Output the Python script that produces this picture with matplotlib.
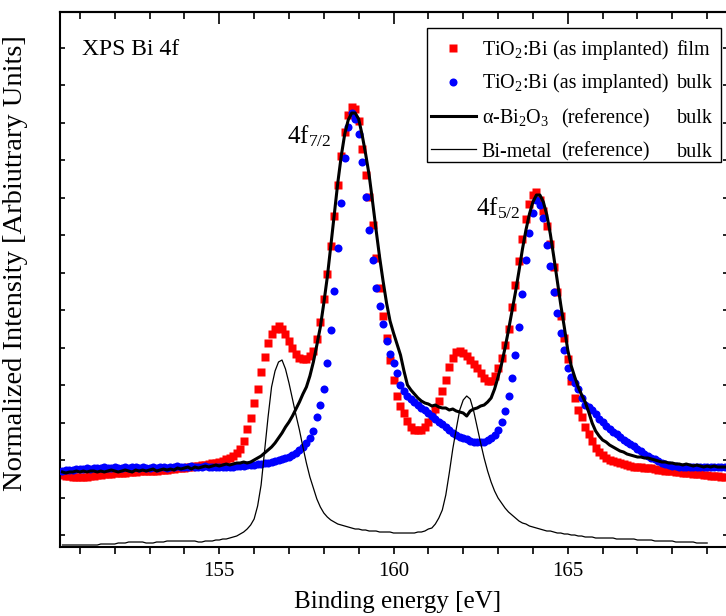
import numpy as np
import matplotlib
matplotlib.use("Agg")
import matplotlib.pyplot as plt
from matplotlib.patches import Rectangle
from matplotlib.lines import Line2D
from matplotlib.ticker import FixedLocator, MultipleLocator, NullFormatter

plt.rcParams['font.family'] = ['Liberation Serif', 'DejaVu Serif']
plt.rcParams['mathtext.fontset'] = 'custom'
plt.rcParams['mathtext.rm'] = 'Liberation Serif'
plt.rcParams['mathtext.it'] = 'Liberation Serif:italic'
plt.rcParams['mathtext.bf'] = 'Liberation Serif:bold'

# ---- data (binding energy rows start at given eV, step 0.1 eV; intensity in arb. units) ----
film_rows = [
    (150.5, [72, 71, 71, 70, 70]),
    (151.0, [70, 70, 70, 71, 71, 72, 72, 73, 73, 73]),
    (152.0, [74, 74, 74, 74, 75, 75, 75, 76, 76, 76]),
    (153.0, [76, 76, 76, 77, 77, 77, 78, 78, 79, 79]),
    (154.0, [79, 80, 80, 81, 81, 82, 82, 83, 84, 84]),
    (155.0, [85, 86, 88, 89, 91, 94, 98, 106, 118, 129]),
    (156.0, [144, 158, 175, 190, 204, 213, 218, 221, 218, 213]),
    (157.0, [206, 199, 193, 189, 188, 188, 191, 196, 208, 225]),
    (158.0, [248, 273, 301, 331, 362, 391, 415, 432, 440, 438]),
    (159.0, [426, 398, 372, 350, 322, 289, 259, 231, 209, 187]),
    (160.0, [167, 151, 141, 134, 126, 120, 117, 117, 117, 120]),
    (161.0, [125, 131, 138, 146, 156, 167, 180, 189, 195, 196]),
    (162.0, [194, 191, 187, 183, 179, 174, 169, 166, 166, 171]),
    (163.0, [179, 189, 202, 218, 240, 262, 286, 308, 328, 343]),
    (164.0, [352, 355, 347, 336, 321, 303, 280, 255, 231, 209]),
    (165.0, [188, 166, 149, 137, 130, 120, 113, 106, 99, 95]),
    (166.0, [92, 89, 87, 86, 85, 84, 83, 82, 81, 80]),
    (167.0, [80, 80, 79, 79, 79, 78, 77, 77, 76, 76]),
    (168.0, [76, 75, 75, 74, 74, 74, 73, 73, 73, 72]),
    (169.0, [72, 71, 71, 71, 70, 70]),
]

bulk_rows = [
    (150.5, [76, 77, 77, 77, 78]),
    (151.0, [78, 78, 79, 78, 79, 79, 79, 80, 79, 79]),
    (152.0, [80, 79, 79, 80, 79, 80, 80, 79, 80, 79]),
    (153.0, [79, 80, 79, 80, 80, 79, 80, 80, 81, 80]),
    (154.0, [80, 80, 81, 80, 80, 80, 81, 80, 80, 80]),
    (155.0, [80, 80, 80, 80, 80, 81, 81, 81, 82, 82]),
    (156.0, [82, 83, 83, 84, 84, 85, 86, 87, 88, 89]),
    (157.0, [90, 92, 94, 97, 100, 104, 109, 116, 130, 142]),
    (158.0, [158, 184, 217, 256, 299, 344, 389, 420, 434, 428]),
    (159.0, [413, 385, 350, 317, 287, 259, 241, 223, 206, 193]),
    (160.0, [184, 174, 162, 156, 151, 148, 145, 142, 139, 137]),
    (161.0, [134, 131, 128, 125, 123, 120, 117, 114, 112, 110]),
    (162.0, [109, 108, 106, 105, 105, 105, 105, 107, 109, 112]),
    (163.0, [117, 125, 136, 151, 169, 192, 220, 253, 287, 314]),
    (164.0, [334, 347, 342, 329, 302, 281, 255, 234, 214, 197]),
    (165.0, [179, 170, 164, 158, 149, 142, 140, 137, 133, 128]),
    (166.0, [125, 121, 118, 115, 113, 110, 107, 105, 103, 101]),
    (167.0, [98, 96, 93, 91, 89, 88, 86, 84, 83, 82]),
    (168.0, [81, 81, 80, 80, 80, 80, 80, 80, 80, 80]),
    (169.0, [80, 80, 80, 80, 80, 80]),
]

oxide_rows = [
    (150.5, [75, 74, 75, 75, 76]),
    (151.0, [75, 76, 75, 76, 76, 75, 76, 75, 76, 77]),
    (152.0, [76, 75, 76, 77, 76, 75, 77, 76, 77, 76]),
    (153.0, [77, 78, 76, 77, 78, 77, 78, 77, 79, 78]),
    (154.0, [79, 80, 78, 80, 79, 80, 81, 80, 81, 82]),
    (155.0, [81, 82, 83, 82, 83, 84, 84, 85, 84, 85]),
    (156.0, [87, 89, 91, 94, 97, 100, 104, 109, 114, 120]),
    (157.0, [125, 131, 138, 145, 153, 160, 171, 185, 202, 220]),
    (158.0, [244, 270, 301, 333, 364, 391, 413, 427, 434, 434]),
    (159.0, [428, 412, 393, 372, 345, 317, 290, 266, 244, 226]),
    (160.0, [214, 203, 192, 176, 162, 157, 153, 149, 146, 144]),
    (161.0, [143, 141, 142, 140, 139, 139, 137, 138, 136, 135]),
    (162.0, [134, 131, 136, 138, 139, 141, 142, 145, 149, 158]),
    (163.0, [170, 183, 199, 217, 236, 255, 276, 298, 317, 333]),
    (164.0, [345, 352, 352, 345, 332, 313, 290, 266, 242, 220]),
    (165.0, [197, 181, 170, 160, 152, 145, 135, 124, 116, 111]),
    (166.0, [107, 105, 102, 100, 98, 96, 95, 93, 92, 91]),
    (167.0, [90, 90, 89, 89, 88, 87, 86, 85, 85, 84]),
    (168.0, [84, 83, 83, 82, 83, 82, 81, 82, 81, 80]),
    (169.0, [81, 80, 81, 80, 80, 80]),
]

metal_rows = [
    (150.5, [2, 2, 2, 2, 2]),
    (151.0, [2, 2, 2, 2, 2, 2, 3, 3, 3, 3]),
    (152.0, [3, 4, 4, 4, 5, 5, 5, 5, 5, 4]),
    (153.0, [4, 4, 5, 5, 5, 6, 6, 6, 6, 6]),
    (154.0, [6, 6, 6, 6, 5, 5, 6, 6, 6, 7]),
    (155.0, [7, 8, 8, 9, 10, 11, 13, 15, 18, 22]),
    (156.0, [28, 41, 62, 96, 130, 160, 176, 185, 187, 178]),
    (157.0, [164, 148, 132, 117, 100, 84, 70, 59, 48, 40]),
    (158.0, [34, 30, 27, 25, 23, 22, 21, 20, 19, 18]),
    (159.0, [18, 17, 17, 16, 16, 16, 15, 15, 15, 15]),
    (160.0, [14, 14, 14, 14, 14, 14, 14, 15, 15, 16]),
    (161.0, [18, 19, 23, 29, 37, 52, 74, 98, 118, 137]),
    (162.0, [147, 151, 148, 136, 120, 104, 89, 76, 65, 56]),
    (163.0, [49, 44, 39, 35, 32, 29, 26, 24, 23, 21]),
    (164.0, [20, 19, 18, 17, 16, 16, 15, 14, 14, 13]),
    (165.0, [13, 12, 12, 11, 11, 10, 10, 10, 9, 9]),
    (166.0, [9, 9, 9, 9, 8, 8, 8, 8, 8, 8]),
    (167.0, [7, 7, 7, 7, 7, 6, 6, 6, 6, 6]),
    (168.0, [6, 5, 5, 5, 5, 5, 5, 4, 4, 4]),
    (169.0, [4]),
]

x_major_ticks = [155, 160, 165]
x_tick_labels = ["155", "160", "165"]


def rows_to_xy(rows):
    e, v = [], []
    for start, vals in rows:
        for i, val in enumerate(vals):
            e.append(round(start + 0.1 * i, 1))
            v.append(val)
    return np.array(e), np.array(v, dtype=float)


E_film, I_film = rows_to_xy(film_rows)
E_bulk, I_bulk = rows_to_xy(bulk_rows)
E_ox, I_ox = rows_to_xy(oxide_rows)
E_met, I_met = rows_to_xy(metal_rows)

fig = plt.figure(figsize=(7.26, 6.16), dpi=100)
ax = fig.add_axes([0.0833, 0.1120, 0.9194, 0.8685])

ax.plot(E_film, I_film, 's', color='#ff0000', ms=5.5, mec='none', zorder=2)
ax.plot(E_bulk, I_bulk, 'o', color='#0000ff', ms=5.8, mec='none', zorder=3)
ax.plot(E_ox, I_ox, '-', color='black', lw=2.2, zorder=4)
ax.plot(E_met, I_met, '-', color='black', lw=0.9, zorder=5)

ax.set_xlim(150.443, 169.597)
ax.set_ylim(0, 535)

for s in ax.spines.values():
    s.set_linewidth(1.5)

# x ticks: bottom outward with labels, top inward via secondary axis
ax.xaxis.set_major_locator(FixedLocator(x_major_ticks))
ax.set_xticklabels(x_tick_labels)
ax.xaxis.set_minor_locator(MultipleLocator(1))
ax.tick_params(axis='x', which='both', direction='out', length=4.8, width=1.2,
               labelsize=15, pad=6, top=False)
sec = ax.secondary_xaxis('top')
sec.xaxis.set_major_locator(FixedLocator(x_major_ticks))
sec.xaxis.set_minor_locator(MultipleLocator(1))
sec.xaxis.set_major_formatter(NullFormatter())
sec.tick_params(axis='x', which='major', direction='in', length=8.4, width=1.2)
sec.tick_params(axis='x', which='minor', direction='in', length=4.8, width=1.2)
sec.spines['top'].set_linewidth(1.5)

# y ticks: no labels
ax.yaxis.set_major_locator(FixedLocator(np.arange(12, 535, 75)))
ax.yaxis.set_minor_locator(FixedLocator(np.arange(49.5, 535, 75)))
ax.yaxis.set_major_formatter(NullFormatter())
ax.tick_params(axis='y', which='both', direction='in', length=3.5, width=1.2,
               left=True, right=True)

ax.set_xlabel("Binding energy [eV]", fontsize=18)
ax.xaxis.set_label_coords(0.5056, -0.082)
ax.set_ylabel("Normalized Intensity [Arbiutrary Units]", fontsize=20.5)
ax.yaxis.set_label_coords(-0.049, 0.530)

# annotations
ax.text(0.0322, 0.9196, "XPS Bi 4f", transform=ax.transAxes, fontsize=17,
        ha='left', va='baseline')
ax.text(0.3397, 0.7551, r"4f$_{7/2}$", transform=ax.transAxes, fontsize=18,
        ha='left', va='baseline')
ax.text(0.6225, 0.6206, r"4f$_{5/2}$", transform=ax.transAxes, fontsize=18,
        ha='left', va='baseline')

# manual legend
box = Rectangle((0.5486, 0.7202), 0.9891 - 0.5486, 0.9695 - 0.7202,
                transform=ax.transAxes, facecolor='white', edgecolor='black',
                lw=1.0, zorder=10)
ax.add_patch(box)
ax.add_line(Line2D([0.5885], [0.9320], transform=ax.transAxes, marker='s',
                   color='#ff0000', ms=5.5, mec='none', ls='none', zorder=11))
ax.add_line(Line2D([0.5885], [0.8700], transform=ax.transAxes, marker='o',
                   color='#0000ff', ms=5.8, mec='none', ls='none', zorder=11))
ax.add_line(Line2D([0.555, 0.6225], [0.8056, 0.8056], transform=ax.transAxes,
                   color='black', lw=2.2, zorder=11))
ax.add_line(Line2D([0.555, 0.6225], [0.7433, 0.7433], transform=ax.transAxes,
                   color='black', lw=0.9, zorder=11))

leg_col1 = [r"TiO$_2$:Bi", r"TiO$_2$:Bi", r"α-Bi$_2$O$_3$", "Bi-metal"]
leg_col2 = ["(as implanted)", "(as implanted)", "(reference)", "(reference)"]
leg_col3 = ["film", "bulk", "bulk", "bulk"]
row_y = [0.9196, 0.8574, 0.7920, 0.7295]
col2_x = [0.7378, 0.7378, 0.7494, 0.7494]
for c1, c2, c3, yy, x2 in zip(leg_col1, leg_col2, leg_col3, row_y, col2_x):
    ax.text(0.6310, yy, c1, transform=ax.transAxes, fontsize=14.5,
            ha='left', va='baseline', zorder=12)
    ax.text(x2, yy, c2, transform=ax.transAxes, fontsize=14.5,
            ha='left', va='baseline', zorder=12)
    ax.text(0.9231, yy, c3, transform=ax.transAxes, fontsize=14.5,
            ha='left', va='baseline', zorder=12)

fig.savefig("out.png", dpi=100)
